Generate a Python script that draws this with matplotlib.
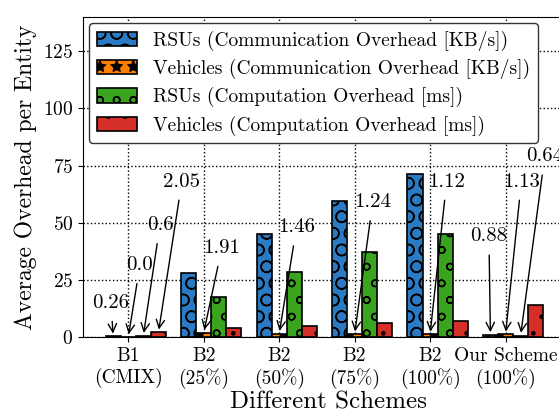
import numpy as np
import matplotlib
import matplotlib.pyplot as plt
matplotlib.use('Agg')

plt.rcParams['font.family'] = 'serif'
plt.rcParams['font.serif'] = ['cmr10']
plt.rcParams['mathtext.fontset'] = 'cm'
plt.rcParams['axes.formatter.use_mathtext'] = True
plt.rcParams['axes.unicode_minus'] = False

schemes = ["B1\n(CMIX)", "B2\n(25%)", "B2\n(50%)", "B2\n(75%)", "B2\n(100%)", "Our Scheme\n(100%)"]
rsu_comm = [0.26, 28.1, 45.0, 59.3, 71.5, 0.88]
veh_comm = [0.0, 1.91, 1.46, 1.24, 1.12, 1.13]
rsu_comp = [0.6, 17.7, 28.4, 37.4, 45.0, 0.64]
veh_comp = [2.05, 3.9, 4.8, 6.3, 7.0, 14.0]

labels = ["RSUs (Communication Overhead [KB/s])",
          "Vehicles (Communication Overhead [KB/s])",
          "RSUs (Computation Overhead [ms])",
          "Vehicles (Computation Overhead [ms])"]
colors = ["#2b7bc4", "#ff8000", "#3aa41e", "#d62f28"]
hatches = ["O", "*", "o", "."]

fig = plt.figure(figsize=(5.59, 4.13), dpi=100)
ax = fig.add_axes([0.1485, 0.184, 0.88, 0.775])

x = np.arange(len(schemes))
w = 0.2
series = [rsu_comm, veh_comm, rsu_comp, veh_comp]
for i, vals in enumerate(series):
    ax.bar(x + (i - 1) * w, vals, w, color=colors[i], edgecolor="black",
           hatch=hatches[i], linewidth=1.2, label=labels[i], zorder=3)

# small values get an arrow + label
notes = [
    (0 - w, rsu_comm[0], -0.23, 15),
    (0, veh_comm[0], 0.155, 31.5),
    (0 + w, rsu_comp[0], 0.42, 49),
    (0 + 2 * w, veh_comp[0], 0.71, 68),
    (1, veh_comm[1], 1.24, 39),
    (2, veh_comm[2], 2.23, 48),
    (3, veh_comm[3], 3.24, 59),
    (4, veh_comm[4], 4.22, 68),
    (5 - w, rsu_comm[5], 4.78, 44),
    (5, veh_comm[5], 5.21, 68),
    (5 + w, rsu_comp[5], 5.52, 79),
]
for bx, val, tx, ty in notes:
    ax.annotate(str(val), xy=(bx, val), xytext=(tx, ty), ha="center", va="center",
                fontsize=15,
                arrowprops=dict(arrowstyle="->", color="black", lw=1, shrinkA=5),
                zorder=4)

ax.set_xlim(-0.6, 5.92)
ax.set_ylim(0, 140)
ax.set_yticks([0, 25, 50, 75, 100, 125])
ax.set_xticks(x)
ax.set_xticklabels(schemes)
ax.tick_params(labelsize=14)
ax.grid(True, linestyle=":", color="black", linewidth=1, zorder=0)
ax.set_axisbelow(True)
ax.set_xlabel("Different Schemes", fontsize=18, labelpad=2)
ax.set_ylabel("Average Overhead per Entity", fontsize=17)

ax.legend(loc="upper left", fontsize=14, framealpha=1, edgecolor="#333333",
          borderaxespad=0.3, handlelength=2.1, handleheight=0.75,
          labelspacing=0.42)

plt.savefig("out.png", dpi=100)
